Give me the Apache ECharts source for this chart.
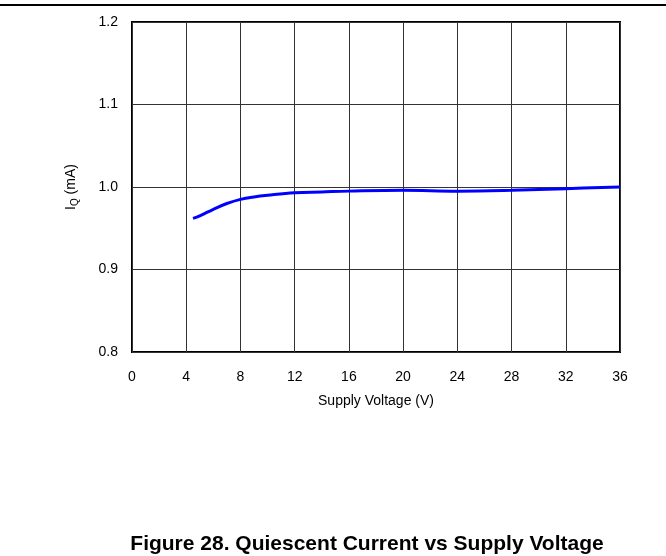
<html>
    <head>
        <meta charset="utf-8">
        <script src='https://cdn.jsdelivr.net/npm/echarts@6/dist/echarts.min.js'></script>
    </head>
    <body>
        <style>
            html, body, #main {
                width: 100%;
                height: 100%;
                margin: 0;
                background: #fff;
            }
        </style>
        <div id='main'></div>
        <script>
            // supply voltage (V) and quiescent current (mA)
            var voltage = [4.5, 5, 6, 7, 8, 9, 10, 12, 14, 16, 20, 24, 28, 32, 36];
            var current = [0.962, 0.965, 0.973, 0.980, 0.985, 0.988, 0.990, 0.993, 0.994, 0.995, 0.996, 0.995, 0.996, 0.998, 1.0];

            var chart = echarts.init(document.getElementById('main'));
            var font = 'Liberation Sans, Arial, sans-serif';

            var option = {
                animation: false,
                title: {
                    text: 'Figure 28. Quiescent Current vs Supply Voltage',
                    left: 362,
                    textAlign: 'center',
                    top: 529,
                    textStyle: { fontFamily: font, fontSize: 21, fontWeight: 'bold', color: '#000' }
                },
                graphic: [{
                    type: 'line',
                    shape: { x1: 0, y1: 5, x2: 666, y2: 5 },
                    style: { stroke: '#000', lineWidth: 2 }
                }],
                grid: {
                    left: 132, right: 46, top: 22, bottom: 204,
                    show: true, borderColor: '#000', borderWidth: 2
                },
                xAxis: {
                    type: 'value',
                    min: 0, max: 36, interval: 4,
                    name: 'Supply Voltage (V)',
                    nameLocation: 'middle',
                    nameGap: 42,
                    nameTextStyle: { fontFamily: font, fontSize: 14, color: '#000' },
                    axisLine: { show: false },
                    axisTick: { show: false },
                    axisLabel: { fontFamily: font, fontSize: 14, color: '#000', margin: 18 },
                    splitLine: { lineStyle: { color: '#333', width: 1 } }
                },
                yAxis: {
                    type: 'value',
                    min: 0.8, max: 1.2, interval: 0.1,
                    name: '{a|I}{s|Q}{a| (mA)}',
                    nameLocation: 'middle',
                    nameGap: 52,
                    nameTextStyle: {
                        rich: {
                            a: { fontFamily: font, fontSize: 14, color: '#000' },
                            s: { fontFamily: font, fontSize: 10, color: '#000', padding: [8, 0, 0, 0] }
                        }
                    },
                    axisLine: { show: false },
                    axisTick: { show: false },
                    axisLabel: {
                        fontFamily: font, fontSize: 14, color: '#000', margin: 14,
                        formatter: function (v) { return v.toFixed(1); }
                    },
                    splitLine: { lineStyle: { color: '#333', width: 1 } }
                },
                series: [{
                    type: 'line',
                    data: voltage.map(function (v, i) { return [v, current[i]]; }),
                    smooth: 0.4,
                    showSymbol: false,
                    lineStyle: { color: '#0000ff', width: 3 }
                }]
            };

            chart.setOption(option);
            window.onresize = chart.resize;
        </script>
    </body>
</html>
